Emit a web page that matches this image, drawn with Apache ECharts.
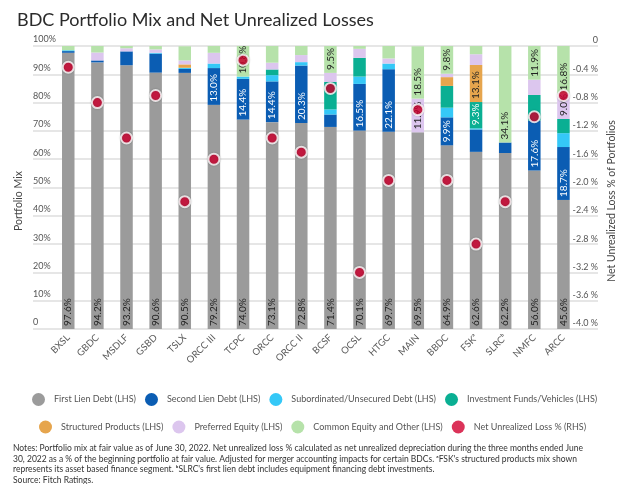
<!DOCTYPE html>
<html><head><meta charset="utf-8">
<script src="https://cdn.jsdelivr.net/npm/echarts@6/dist/echarts.min.js"></script>
<style>html,body{margin:0;padding:0;background:#fff}#c{width:640px;height:484px}</style>
</head><body><div id="c"></div>
<script>
const categories = ['BXSL','GBDC','MSDLF','GSBD','TSLX','ORCC III','TCPC','ORCC','ORCC II','BCSF','OCSL','HTGC','MAIN','BBDC','FSKᵃ','SLRCᵇ','NMFC','ARCC'];
const firstLien   = [97.6,94.2,93.2,90.6,90.5,79.2,74.0,73.1,72.8,71.4,70.1,69.7,69.5,64.9,62.6,62.2,56.0,45.6];
const secondLien  = [0.6,0.7,4.9,6.7,1.4,13.0,14.4,14.4,20.3,4.4,16.5,22.1,0,9.9,7.9,3.7,17.6,18.7];
const subordinated= [0.3,0,0,0.3,0.4,1.6,0.8,2.2,1.2,1.8,2.6,2.0,0,3.4,0.4,0,0,4.9];
const invFunds    = [0,0,0,0,0,0,0,2.0,0,9.7,6.6,0,0,7.7,9.3,0,9.1,5.0];
const structured  = [0,0,0,0,1.2,0,0,0,0,0,0,0,0,3.1,13.1,0,0,0];
const preferred   = [0,2.8,1.1,1.2,1.4,3.8,0,2.4,2.5,3.2,3.2,1.8,11.9,1.2,3.8,0,5.4,9.0];
const common      = [1.5,2.3,0.8,1.2,5.0,2.4,10.8,5.9,3.2,9.5,1.0,4.4,18.5,9.8,2.9,34.1,11.9,16.8];
const netLoss     = [-0.3,-0.8,-1.3,-0.7,-2.2,-1.6,-0.2,-1.3,-1.5,-0.6,-3.2,-1.9,-0.9,-1.9,-2.8,-2.2,-1.0,-0.7];
// which bars carry a value label
const labeledFirst = categories.slice();
const labeledSecond = ['ORCC III','TCPC','ORCC','ORCC II','OCSL','HTGC','BBDC','NMFC','ARCC'];
const labeledSub = [];
const labeledInv = ['FSKᵃ'];
const labeledStruct = ['FSKᵃ'];
const labeledPref = ['MAIN','ARCC'];
const labeledCommon = ['TCPC','BCSF','MAIN','BBDC','SLRCᵇ','NMFC','ARCC'];
const leftTicks = {min:0, max:100, interval:10};
const rightTicks = {min:-4, max:0, interval:0.4};

const FONT = 'Lato';
function mk(name, vals, labeled, color, textColor) {
  return {
    name, type:'bar', stack:'mix', xAxisIndex:0, yAxisIndex:0, barWidth:12.5,
    itemStyle:{color},
    label:{show:false, position:'insideBottom', rotate:90, align:'left', verticalAlign:'middle',
      distance:3, fontSize:10, fontFamily:FONT, color:textColor,
      formatter: p => p.value.toFixed(1) + '%'},
    data: vals.map((v,i) => ({value:v, label:{show: labeled.indexOf(categories[i]) >= 0 && v > 0}}))
  };
}
const chart = echarts.init(document.getElementById('c'), null, {renderer:'canvas'});
chart.setOption({
  animation:false,
  textStyle:{fontFamily:FONT},
  title:{text:'BDC Portfolio Mix and Net Unrealized Losses', left:12, top:6,
    textStyle:{fontFamily:FONT, fontSize:18, fontWeight:'normal', color:'#2b2b2b'}},
  grid:[
    {left:53.7, right:62, top:46, bottom:155},
    {left:33, right:42, top:46, bottom:155}
  ],
  xAxis:[
    {type:'category', gridIndex:0, data:categories, axisLine:{show:false}, axisTick:{show:false},
      axisLabel:{rotate:45, fontSize:9.5, color:'#5a5a5a', margin:7, fontFamily:FONT, interval:0}},
    {type:'value', gridIndex:1, show:false, min:0, max:1}
  ],
  yAxis:[
    {type:'value', gridIndex:0, min:leftTicks.min, max:leftTicks.max, interval:leftTicks.interval,
      splitLine:{show:false}, axisLine:{show:false}, axisTick:{show:false},
      axisLabel:{align:'left', margin:20.7, verticalAlign:'bottom', padding:[0,0,2,0], fontSize:9, color:'#555', fontFamily:FONT,
        formatter: v => v === 0 ? '0' : v + '%'}},
    {type:'value', gridIndex:0, position:'right', min:rightTicks.min, max:rightTicks.max, interval:rightTicks.interval,
      splitLine:{show:false}, axisLine:{show:false}, axisTick:{show:false},
      axisLabel:{align:'right', margin:20, verticalAlign:'bottom', padding:[0,0,1,0], fontSize:9, color:'#555', fontFamily:FONT,
        formatter: v => Math.abs(v) < 1e-9 ? '0' : v.toFixed(1) + ' %'}},
    {type:'value', gridIndex:1, min:leftTicks.min, max:leftTicks.max, interval:leftTicks.interval,
      axisLabel:{show:false}, axisLine:{show:false}, axisTick:{show:false},
      splitLine:{show:true, lineStyle:{color:'#e6e6e6', width:2}}}
  ],
  legend:[
    {data:['First Lien Debt (LHS)','Second Lien Debt (LHS)','Subordinated/Unsecured Debt (LHS)','Investment Funds/Vehicles (LHS)'],
      left:27, top:388, icon:'circle', itemWidth:13, itemHeight:13, itemGap:9,
      itemStyle:{borderWidth:0},
      textStyle:{fontSize:9, color:'#555', fontFamily:FONT, padding:[0,0,0,4]}},
    {data:['Structured Products (LHS)','Preferred Equity (LHS)','Common Equity and Other (LHS)','Net Unrealized Loss % (RHS)'],
      left:34, top:415.5, icon:'circle', itemWidth:13, itemHeight:13, itemGap:9,
      itemStyle:{borderWidth:0},
      textStyle:{fontSize:9, color:'#555', fontFamily:FONT, padding:[0,0,0,4]}}
  ],
  series:[
    mk('First Lien Debt (LHS)', firstLien, labeledFirst, '#9b9b9b', '#222'),
    mk('Second Lien Debt (LHS)', secondLien, labeledSecond, '#0b5db3', '#fff'),
    mk('Subordinated/Unsecured Debt (LHS)', subordinated, labeledSub, '#35c8f7', '#222'),
    mk('Investment Funds/Vehicles (LHS)', invFunds, labeledInv, '#0aaf93', '#fff'),
    mk('Structured Products (LHS)', structured, labeledStruct, '#e6a54d', '#222'),
    mk('Preferred Equity (LHS)', preferred, labeledPref, '#dcc6ee', '#222'),
    mk('Common Equity and Other (LHS)', common, labeledCommon, '#b6e2aa', '#222'),
    {name:'Net Unrealized Loss % (RHS)', type:'scatter', xAxisIndex:0, yAxisIndex:1, z:10,
      symbol:'circle', symbolSize:11,
      itemStyle:{color:'#d2002f', borderColor:'#fff', borderWidth:2, shadowColor:'rgba(0,0,0,0.25)', shadowBlur:2},
      data: netLoss}
  ],
  graphic:[
    {type:'text', x:19, y:201, rotation:Math.PI/2,
      style:{text:'Portfolio Mix', fontSize:10.5, fontFamily:FONT, fill:'#444', textAlign:'center', textVerticalAlign:'middle'}},
    {type:'text', x:612, y:201, rotation:Math.PI/2,
      style:{text:'Net Unrealized Loss % of Portfolios', fontSize:10.5, fontFamily:FONT, fill:'#444', textAlign:'center', textVerticalAlign:'middle'}},
    {type:'text', x:13, y:443,
      style:{text:"Notes: Portfolio mix at fair value as of June 30, 2022. Net unrealized loss % calculated as net unrealized depreciation during the three months ended June\n30, 2022 as a % of the beginning portfolio at fair value. Adjusted for merger accounting impacts for certain BDCs. ᵃFSK's structured products mix shown\nrepresents its asset based finance segment. ᵇSLRC's first lien debt includes equipment financing debt investments.\nSource: Fitch Ratings.",
        fontSize:8.5, lineHeight:10.7, fontFamily:FONT, fill:'#333'}}
  ]
});
</script></body></html>
